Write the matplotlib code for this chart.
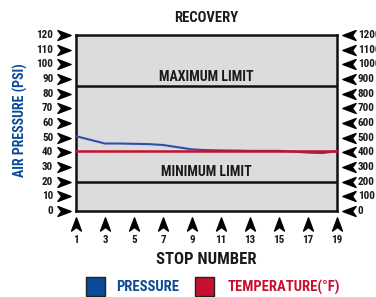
import matplotlib
matplotlib.use("Agg")
import matplotlib.pyplot as plt
from matplotlib.path import Path
from matplotlib.patches import Rectangle

plt.rcParams['font.family'] = ['Roboto Condensed', 'DejaVu Sans']
plt.rcParams['font.weight'] = 'bold'

# data
stops = list(range(1, 20))
pressure = [51, 48.5, 46, 46, 45.8, 45.6, 45, 43.5, 42, 41.5, 41.3, 41.2, 41, 41, 41, 40.5, 39.8, 39.5, 40.8]
temperature = [410] * 19          # deg F, right axis
left_ticks = list(range(0, 121, 10))
right_ticks = list(range(0, 1201, 100))
x_ticks = list(range(1, 20, 2))
max_limit = 85
min_limit = 20

blue = '#2f4fae'
blue_dark = '#0b4a96'
red = '#c8102e'

# notched arrowheads
arrow_right = Path([(-1, 0.75), (1, 0), (-1, -0.75), (-0.45, 0), (-1, 0.75)],
                   [Path.MOVETO, Path.LINETO, Path.LINETO, Path.LINETO, Path.CLOSEPOLY])
arrow_left = Path([(1, 0.75), (-1, 0), (1, -0.75), (0.45, 0), (1, 0.75)],
                  [Path.MOVETO, Path.LINETO, Path.LINETO, Path.LINETO, Path.CLOSEPOLY])
arrow_up = Path([(0.75, -1), (0, 1), (-0.75, -1), (0, -0.45), (0.75, -1)],
                [Path.MOVETO, Path.LINETO, Path.LINETO, Path.LINETO, Path.CLOSEPOLY])

fig = plt.figure(figsize=(3.76, 2.97), dpi=100)
ax = fig.add_axes([0.2021, 0.2896, 0.6941, 0.5926])
ax.set_facecolor('#dcdcdd')
ax.set_xlim(1, 19)
ax.set_ylim(0, 120)
ax.set_xticks([])
ax.set_yticks([])
for s in ax.spines.values():
    s.set_linewidth(1.8)
    s.set_color('#111111')

ax.axhline(max_limit, color='#111111', lw=1.8)
ax.axhline(min_limit, color='#111111', lw=1.8)
ax.text(10, max_limit + 1.5, 'MAXIMUM LIMIT', ha='center', va='bottom', fontsize=10, color='#1a1a1a')
ax.text(10, min_limit + 1.5, 'MINIMUM LIMIT', ha='center', va='bottom', fontsize=10, color='#1a1a1a')

ax.plot(stops, pressure, color=blue, lw=1.5, zorder=3)
ax2 = ax.twinx()
ax2.set_ylim(0, 1200)
ax2.axis('off')
ax2.plot(stops, temperature, color=red, lw=1.8, zorder=4, clip_on=False)

ytr = ax.get_yaxis_transform()
xtr = ax.get_xaxis_transform()
for v in left_ticks:
    ax.plot(-0.047, v, marker=arrow_right, ms=9.5, color='black', transform=ytr, clip_on=False)
    ax.text(-0.087, v, str(v), ha='right', va='center', fontsize=8, transform=ytr, color='#1a1a1a')
for v in right_ticks:
    yv = v / 10
    ax.plot(1.048, yv, marker=arrow_left, ms=9.5, color='black', transform=ytr, clip_on=False)
    ax.text(1.08, yv, str(v), ha='left', va='center', fontsize=8, transform=ytr, color='#1a1a1a')
for s in x_ticks:
    ax.plot(s, -0.075, marker=arrow_up, ms=9.5, color='black', transform=xtr, clip_on=False)
    ax.text(s, -0.163, str(s), ha='center', va='center', fontsize=8, transform=xtr, color='#1a1a1a')

fig.text(206 / 376, 1 - 18 / 297, 'RECOVERY', ha='center', va='center', fontsize=10.5, color='#1a1a1a')
fig.text(206 / 376, 1 - 259 / 297, 'STOP NUMBER', ha='center', va='center', fontsize=12, color='#1a1a1a')
fig.text(20 / 376, 1 - 120 / 297, 'AIR PRESSURE (PSI)', ha='center', va='center', rotation=90,
         fontsize=10, color=blue_dark)

# legend
fig.patches.append(Rectangle((86 / 376, 1 - 296 / 297), 19 / 376, 19 / 297, transform=fig.transFigure,
                             facecolor=blue_dark, edgecolor='#222222', lw=1))
fig.text(116 / 376, 1 - 287 / 297, 'PRESSURE', color=blue_dark, fontsize=10.5, va='center')
fig.patches.append(Rectangle((195 / 376, 1 - 296 / 297), 19 / 376, 19 / 297, transform=fig.transFigure,
                             facecolor=red, edgecolor='#222222', lw=1))
fig.text(228 / 376, 1 - 287 / 297, 'TEMPERATURE(°F)', color=red, fontsize=10.5, va='center')

fig.savefig('out.png', dpi=100)
